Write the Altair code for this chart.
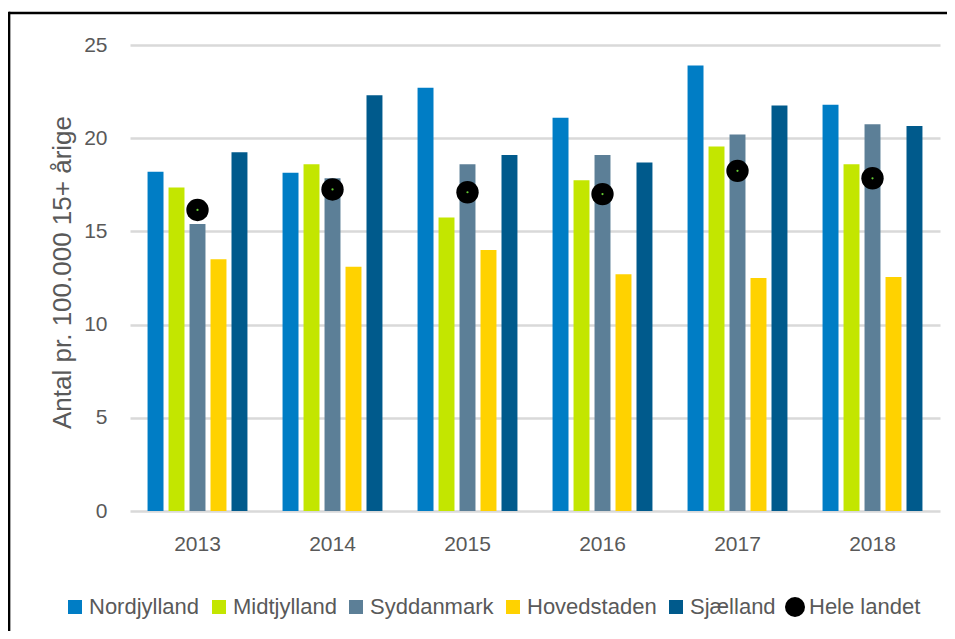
import altair as alt
import pandas as pd

FONT = "Liberation Sans"
TEXT = "#595959"

years = ["2013", "2014", "2015", "2016", "2017", "2018"]
regions = ["Nordjylland", "Midtjylland", "Syddanmark", "Hovedstaden", "Sjælland"]
region_colors = ["#007DC5", "#C3E600", "#5C7F97", "#FFD200", "#005A8C"]

nordjylland = [18.2, 18.15, 22.7, 21.1, 23.9, 21.8]
midtjylland = [17.35, 18.6, 15.75, 17.75, 19.55, 18.6]
syddanmark = [15.4, 17.85, 18.6, 19.1, 20.2, 20.75]
hovedstaden = [13.5, 13.1, 14.0, 12.7, 12.5, 12.55]
sjaelland = [19.25, 22.3, 19.1, 18.7, 21.75, 20.65]
hele_landet = [16.15, 17.25, 17.1, 17.0, 18.25, 17.85]

series = [nordjylland, midtjylland, syddanmark, hovedstaden, sjaelland]
rows = []
for reg, vals in zip(regions, series):
    for yr, v in zip(years, vals):
        rows.append({"year": yr, "serie": reg, "value": v})
bars_df = pd.DataFrame(rows)
dots_df = pd.DataFrame({"year": years, "serie": "Hele landet", "value": hele_landet})

W, H = 810, 466
PAD = {"left": 122, "top": 37, "right": 7, "bottom": 120}

x_scale = alt.Scale(domain=years, paddingInner=0.26, paddingOuter=0.13)
y_scale = alt.Scale(domain=[0, 25], nice=False)
color_scale = alt.Scale(domain=regions + ["Hele landet"], range=region_colors + ["#000000"])

legend = alt.Legend(
    orient="none", legendX=-66, legendY=551, direction="horizontal", title=None,
    symbolType=alt.ExprRef(expr="datum.value === 'Hele landet' ? 'circle' : 'square'"),
    symbolSize=alt.ExprRef(expr="datum.value === 'Hele landet' ? 400 : 196"),
    symbolStrokeWidth=0, symbolOpacity=1,
    labelFont=FONT, labelFontSize=22, labelColor=TEXT, labelOffset=3, columnPadding=8,
    labelLimit=300,
)

x_axis = alt.Axis(title=None, domain=False, ticks=False, labelAngle=0, labelPadding=22,
                  labelFont=FONT, labelFontSize=21, labelColor=TEXT, labelBaseline="top")
y_axis = alt.Axis(title="Antal pr. 100.000 15+ årige", values=[0, 5, 10, 15, 20, 25],
                  domain=False, ticks=False, labelPadding=23, labelFont=FONT,
                  labelFontSize=21, labelColor=TEXT, gridColor="#D9D9D9", gridWidth=2.5,
                  titleFont=FONT, titleFontSize=26, titleFontWeight="normal", titleColor=TEXT,
                  titleX=-68, titleY=227, titleAngle=270, titleAlign="center",
                  titleBaseline="middle")

bars = alt.Chart(bars_df).mark_bar().encode(
    x=alt.X("year:N", scale=x_scale, axis=x_axis),
    xOffset=alt.XOffset("serie:N", sort=regions,
                        scale=alt.Scale(domain=regions, paddingInner=0.24, paddingOuter=0)),
    y=alt.Y("value:Q", scale=y_scale, axis=y_axis),
    color=alt.Color("serie:N", scale=color_scale, legend=legend),
)

dots = alt.Chart(dots_df).mark_point(filled=True, size=500, opacity=1).encode(
    x=alt.X("year:N", scale=x_scale),
    y=alt.Y("value:Q", scale=y_scale),
    color=alt.Color("serie:N", scale=color_scale),
)

centers = alt.Chart(dots_df).mark_point(filled=True, size=5, opacity=1, color="#66CC33").encode(
    x=alt.X("year:N", scale=x_scale),
    y=alt.Y("value:Q", scale=y_scale),
)

frame_df = pd.DataFrame({"k": [0]})
frame_top = alt.Chart(frame_df).mark_rule(color="black", strokeWidth=2.7).encode(
    x=alt.value(-121), x2=alt.value(W + PAD["right"] + 5), y=alt.value(-32)
)
frame_left = alt.Chart(frame_df).mark_rule(color="black", strokeWidth=2.7).encode(
    x=alt.value(-121), y=alt.value(-33.3), y2=alt.value(H + PAD["bottom"] + 5)
)

chart = alt.layer(bars, dots, centers, frame_top, frame_left).properties(
    width=W, height=H, padding=PAD, autosize=alt.AutoSizeParams(type="none"),
    background="white",
).configure_view(stroke=None)

chart.save("out.html", embed_options={"renderer": "svg", "actions": False})
